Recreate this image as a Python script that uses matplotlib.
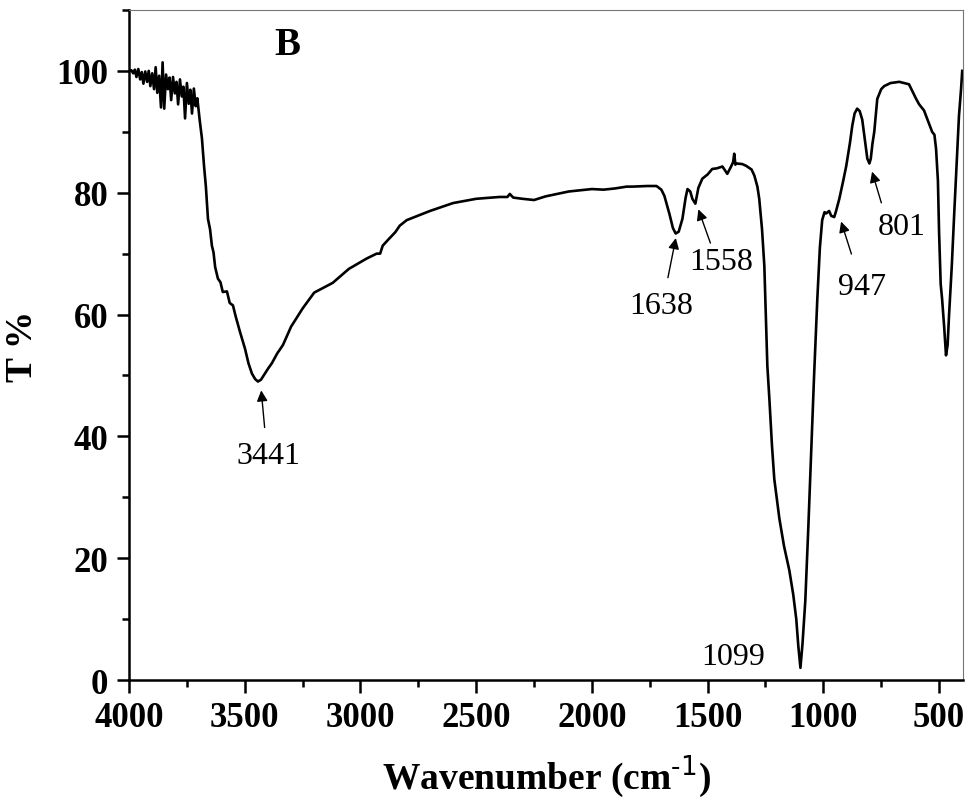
import numpy as np
import matplotlib
matplotlib.use("Agg")
import matplotlib.pyplot as plt
from matplotlib.ticker import MultipleLocator

# FTIR spectrum (wavenumber cm-1, transmittance %)
wavenumber = [4000, 3990, 3982, 3975, 3968, 3960, 3952, 3945, 3938, 3930, 3922, 3915,
              3908, 3900, 3892, 3885, 3878, 3870, 3862, 3855, 3848, 3840, 3832, 3825,
              3818, 3810, 3802, 3795, 3788, 3780, 3772, 3765, 3758, 3750, 3742, 3735,
              3728, 3720, 3712, 3705, 3695, 3685, 3676, 3668, 3659, 3650, 3642, 3635,
              3628, 3616, 3605, 3595, 3577, 3565, 3551, 3540, 3521, 3499, 3484, 3469,
              3455, 3443, 3430, 3413, 3398, 3383, 3360, 3335, 3300, 3250, 3200, 3120,
              3050, 2973, 2930, 2915, 2904, 2880, 2850, 2830, 2800, 2700, 2600, 2500,
              2400, 2365, 2355, 2340, 2300, 2250, 2200, 2100, 2000, 1950, 1900, 1850,
              1825, 1760, 1721, 1700, 1687, 1665, 1650, 1638, 1625, 1609, 1595, 1587,
              1575, 1566, 1553, 1540, 1523, 1500, 1480, 1460, 1436, 1415, 1400, 1390,
              1385, 1380, 1376, 1350, 1333, 1310, 1298, 1285, 1277, 1265, 1255, 1242,
              1233, 1222, 1212, 1200, 1190, 1170, 1147, 1130, 1117, 1108, 1099, 1090,
              1078, 1065, 1052, 1040, 1026, 1015, 1005, 995, 988, 975, 966, 953, 945,
              931, 915, 901, 885, 875, 865, 854, 843, 832, 820, 810, 801, 795, 788, 780,
              767, 750, 737, 710, 672, 630, 599, 586, 565, 543, 530, 520, 513, 505, 500,
              493, 487, 478, 470, 463, 457, 445, 435, 425, 414, 405, 400]
transmittance = [100.0, 100.1, 99.6, 100.2, 99.0, 100.3, 98.6, 99.8, 97.9, 99.9, 98.2, 100.0,
                 97.5, 99.6, 97.0, 100.6, 96.4, 99.2, 94.0, 101.4, 93.8, 99.4, 97.0, 98.9,
                 95.2, 99.0, 96.3, 98.2, 94.5, 98.6, 95.8, 97.4, 92.2, 98.0, 94.6, 96.9,
                 93.0, 97.1, 94.2, 95.5, 92.0, 88.9, 84.4, 81.0, 75.7, 74.0, 71.3, 70.2,
                 67.8, 65.9, 65.3, 63.7, 63.8, 61.9, 61.5, 59.8, 57.2, 54.4, 52.0, 50.3,
                 49.4, 49.0, 49.3, 50.3, 51.2, 52.0, 53.6, 55.0, 58.0, 61.0, 63.6, 65.2,
                 67.5, 69.2, 70.0, 70.0, 71.3, 72.3, 73.5, 74.6, 75.5, 77.0, 78.3, 79.0,
                 79.3, 79.3, 79.8, 79.2, 79.0, 78.8, 79.4, 80.2, 80.6, 80.5, 80.7, 81.0,
                 81.0, 81.1, 81.1, 80.5, 79.5, 76.5, 74.2, 73.3, 73.6, 75.7, 79.2, 80.6,
                 80.2, 79.0, 78.2, 80.8, 82.3, 83.0, 83.9, 84.0, 84.3, 83.1, 84.2, 85.0,
                 86.4, 84.6, 84.8, 84.7, 84.4, 83.8, 82.8, 81.0, 79.0, 74.0, 68.0, 51.6,
                 46.0, 38.5, 33.0, 29.5, 26.5, 22.0, 18.0, 14.0, 10.0, 5.5, 2.0, 6.0,
                 13.0, 25.0, 38.0, 50.0, 62.6, 71.0, 75.5, 76.8, 76.6, 77.0, 76.2, 76.0,
                 77.0, 79.0, 81.8, 84.4, 88.2, 91.0, 93.0, 93.8, 93.4, 92.0, 88.5, 85.6,
                 84.8, 85.6, 88.0, 90.0, 95.4, 97.0, 97.5, 98.0, 98.2, 97.8, 95.4, 94.5,
                 93.5, 91.3, 90.0, 89.5, 87.2, 82.0, 73.6, 65.0, 62.6, 58.0, 53.3, 55.0,
                 59.8, 68.0, 76.2, 84.0, 92.6, 97.0, 100.0]

peak_labels = ["3441", "1638", "1558", "947", "801"]
label_xy = [(3400, 36.9), (1700, 61.5), (1441, 68.7), (832, 64.6), (660, 74.4)]
arrow_tail = [(3413, 41.0), (1674, 65.6), (1484, 71.3), (875, 69.5), (746, 77.9)]
arrow_head = [(3430, 48.0), (1635, 73.0), (1544, 77.7), (927, 75.7), (793, 83.9)]

plt.rcParams['font.family'] = ['Liberation Serif', 'DejaVu Serif']

fig = plt.figure(figsize=(9.71, 8.12), dpi=100)
ax = fig.add_axes([0.1329, 0.1613, 0.859, 0.8252])

ax.plot(wavenumber, transmittance, color='black', lw=1.9)

ax.set_xlim(4000, 396)
ax.set_ylim(0, 110)
ax.xaxis.set_major_locator(MultipleLocator(500))
ax.xaxis.set_minor_locator(MultipleLocator(250))
ax.yaxis.set_major_locator(MultipleLocator(20))
ax.yaxis.set_minor_locator(MultipleLocator(10))

# thick left/bottom, thin grey top/right
for side in ['left', 'bottom']:
    ax.spines[side].set_linewidth(1.8)
for side in ['top', 'right']:
    ax.spines[side].set_linewidth(0.8)
    ax.spines[side].set_color('#777777')

ax.tick_params(which='major', direction='out', length=9, width=1.8, pad=6)
ax.tick_params(which='minor', direction='out', length=5, width=1.8)
for lab in ax.get_xticklabels() + ax.get_yticklabels():
    lab.set_fontweight('bold')
    lab.set_fontsize(25)

ax.set_xlabel('Wavenumber (cm$^{\\text{-1}}$)', fontsize=27,
              fontweight='bold', labelpad=14)
ax.set_ylabel('T %', fontsize=27, fontweight='bold', labelpad=12)

ax.text(3314, 104.4, 'B', fontsize=28, fontweight='bold', ha='center', va='center')

for lab, xy, tail, head in zip(peak_labels, label_xy, arrow_tail, arrow_head):
    ax.text(xy[0], xy[1], lab, fontsize=23, ha='center', va='center')
    ax.annotate('', xy=head, xytext=tail,
                arrowprops=dict(arrowstyle='-|>', color='black', lw=1.0,
                                mutation_scale=16))

ax.text(1389, 3.9, '1099', fontsize=23, ha='center', va='center')

fig.savefig('out.png', dpi=100)
